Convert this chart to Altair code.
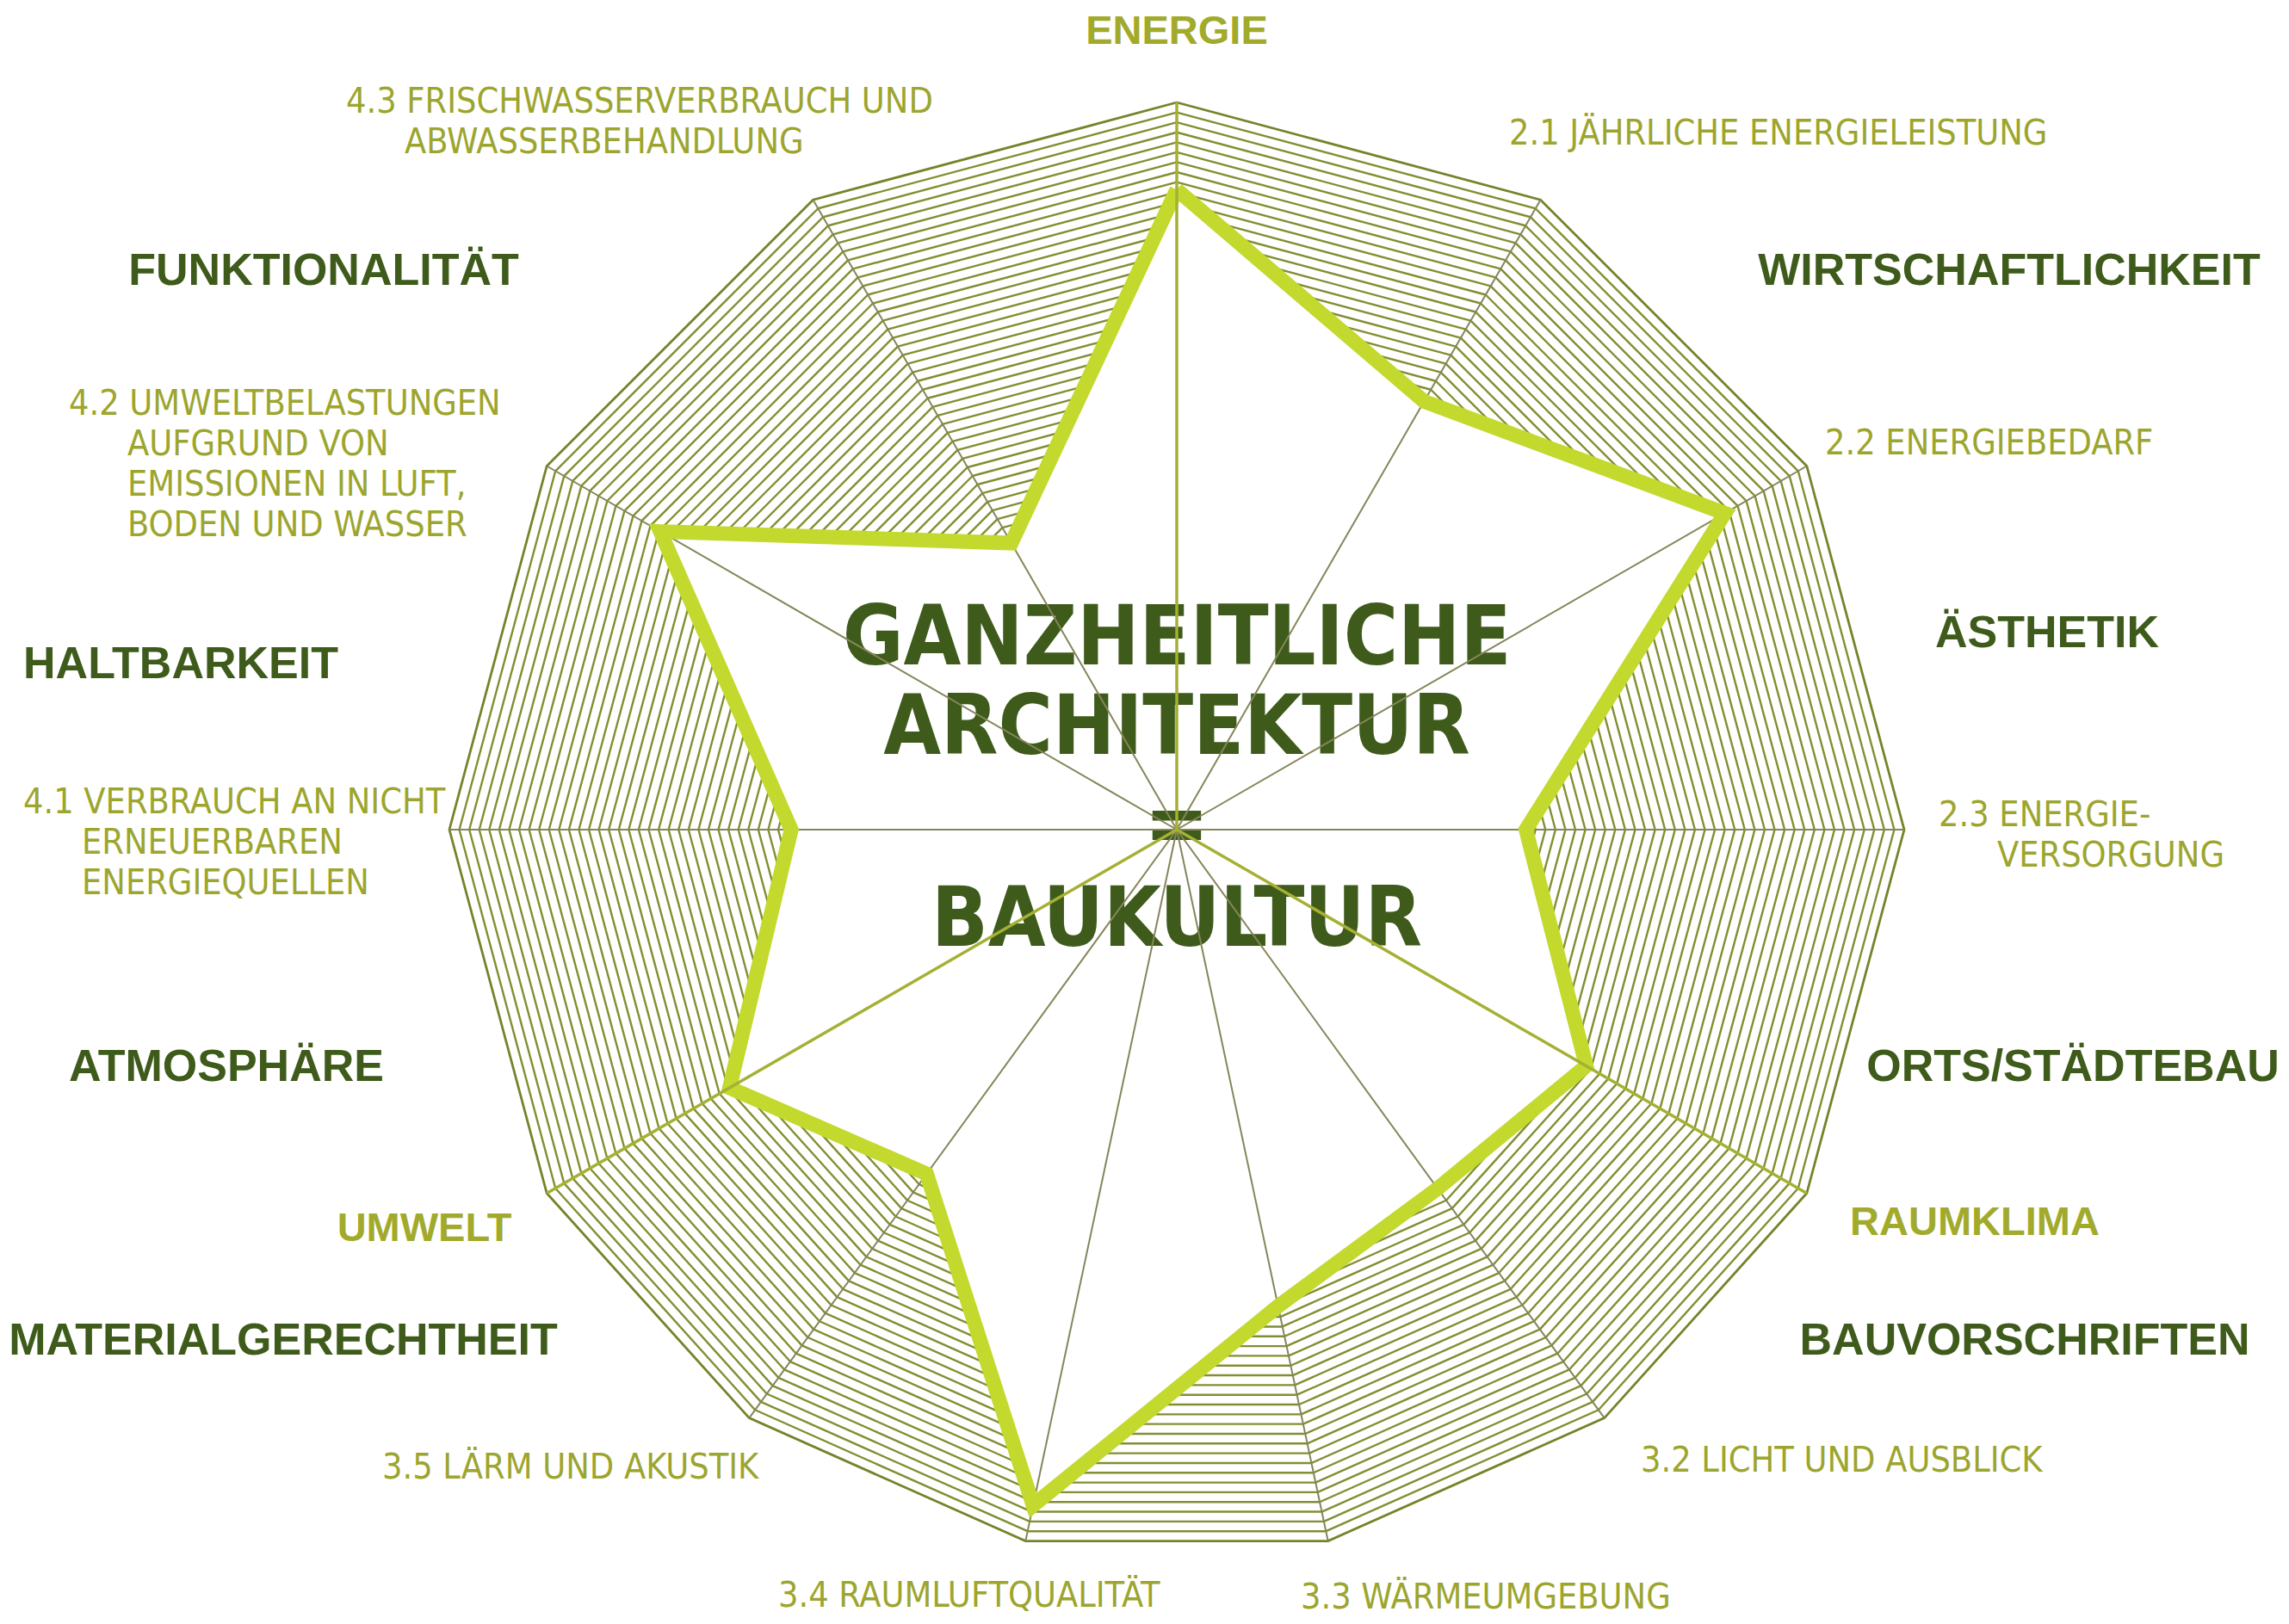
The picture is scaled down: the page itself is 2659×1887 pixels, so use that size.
import numpy as np
import pandas as pd
import altair as alt

# ---------------- data ----------------
axis_ids = ["ENERGIE", "2.1", "2.2", "2.3", "RAUMKLIMA", "3.2", "3.3", "3.4", "3.5",
            "UMWELT", "4.1", "4.2", "4.3"]
axis_angles = [0, 30, 60, 90, 120, 144, 168, 192, 216, 240, 270, 300, 330]
scores = [0.88, 0.68, 0.87, 0.48, 0.65, 0.61, 0.67, 0.95, 0.585, 0.71, 0.53, 0.82, 0.455]
boundary_axes = ["ENERGIE", "RAUMKLIMA", "UMWELT"]

sub_numbers = ["2.1", "2.2", "2.3", "3.2", "3.3", "3.4", "3.5", "4.1", "4.2", "4.3"]
sub_texts = [
    ["JÄHRLICHE ENERGIELEISTUNG"],
    ["ENERGIEBEDARF"],
    ["ENERGIE-", "VERSORGUNG"],
    ["LICHT UND AUSBLICK"],
    ["WÄRMEUMGEBUNG"],
    ["RAUMLUFTQUALITÄT"],
    ["LÄRM UND AKUSTIK"],
    ["VERBRAUCH AN NICHT", "ERNEUERBAREN", "ENERGIEQUELLEN"],
    ["UMWELTBELASTUNGEN", "AUFGRUND VON", "EMISSIONEN IN LUFT,", "BODEN UND WASSER"],
    ["FRISCHWASSERVERBRAUCH UND", "ABWASSERBEHANDLUNG"],
]
main_categories = ["ENERGIE", "RAUMKLIMA", "UMWELT"]
qualities = ["FUNKTIONALITÄT", "WIRTSCHAFTLICHKEIT", "HALTBARKEIT", "ÄSTHETIK",
             "ATMOSPHÄRE", "ORTS/STÄDTEBAU", "MATERIALGERECHTHEIT", "BAUVORSCHRIFTEN"]
center_lines = ["GANZHEITLICHE", "ARCHITEKTUR", "=", "BAUKULTUR"]

# ---------------- layout (image pixel space) ----------------
W, H = 2643, 1871
CX, CY, RADIUS = 1367, 964, 845
HATCH_STEP = 1 / 73
sub_pos = [(1753, 156), (2120, 516), (2252, 948), (1906, 1698), (1511, 1857),
           (904, 1855), (444, 1706), (27, 933), (80, 470), (402, 119)]
SUB_INDENT = 68
SUB_LINE = 47
SUB_SIZE = 41
main_pos = [(1367, 37), (2294, 1421), (493, 1428)]
quality_pos = [(376, 315), (2334, 315), (210, 772), (2378, 736), (263, 1240),
               (2408, 1240), (329, 1558), (2352, 1558)]
center_y = [743, 847, 960, 1070]
center_size = [96, 96, 100, 96]

NARROW = "Liberation Sans Narrow, DejaVu Sans Condensed, sans-serif"
SANS = "Liberation Sans, Arial, sans-serif"
DARK = "#3e5b1b"
OLIVE_TXT = "#9ca52d"

# ---------------- geometry ----------------
ang = np.radians(axis_angles)
ux, uy = np.sin(ang), np.cos(ang)
n = len(ang)


def pt(i, r):
    return CX + r * RADIUS * ux[i], CY - r * RADIUS * uy[i]


hatch = []
levels = 1 - np.arange(1, int(round(1 / HATCH_STEP))) * HATCH_STEP
for i in range(n):
    j = (i + 1) % n
    vi, vj = scores[i], scores[j]
    for L in levels:
        if L <= min(vi, vj):
            continue
        if L >= max(vi, vj):
            t0, t1 = 0.0, 1.0
        else:
            ts = (1 / L - 1 / vi) / (1 / vj - 1 / vi)
            t0, t1 = (0.0, ts) if vi < vj else (ts, 1.0)
        ax_, ay_ = (1 - t0) * ux[i] + t0 * ux[j], (1 - t0) * uy[i] + t0 * uy[j]
        bx_, by_ = (1 - t1) * ux[i] + t1 * ux[j], (1 - t1) * uy[i] + t1 * uy[j]
        hatch.append({"x": CX + L * RADIUS * ax_, "y": CY - L * RADIUS * ay_,
                      "x2": CX + L * RADIUS * bx_, "y2": CY - L * RADIUS * by_})
hatch_df = pd.DataFrame(hatch)

outline_df = pd.DataFrame([{"o": k, "x": pt(k % n, 1)[0], "y": pt(k % n, 1)[1]}
                           for k in range(n + 1)])
score_df = pd.DataFrame([{"o": k, "x": pt(k % n, scores[k % n])[0],
                          "y": pt(k % n, scores[k % n])[1]} for k in range(n + 1)])
spokes_df = pd.DataFrame([{"id": axis_ids[i], "x": CX, "y": CY,
                           "x2": pt(i, 1)[0], "y2": pt(i, 1)[1],
                           "boundary": axis_ids[i] in boundary_axes} for i in range(n)])

sub_rows = []
for num, lines, (x0, y0) in zip(sub_numbers, sub_texts, sub_pos):
    for k, line in enumerate(lines):
        if k == 0:
            sub_rows.append({"t": f"{num} {line}", "x": x0, "y": y0})
        else:
            sub_rows.append({"t": line, "x": x0 + SUB_INDENT, "y": y0 + k * SUB_LINE})
sub_df = pd.DataFrame(sub_rows)
main_df = pd.DataFrame([{"t": t, "x": p[0], "y": p[1]} for t, p in zip(main_categories, main_pos)])
qual_df = pd.DataFrame([{"t": t, "x": p[0], "y": p[1]} for t, p in zip(qualities, quality_pos)])
center_df = pd.DataFrame([{"t": t, "x": CX, "y": y, "s": s}
                          for t, y, s in zip(center_lines, center_y, center_size)])

xs = alt.Scale(domain=[8, 8 + W], nice=False, zero=False)
ys = alt.Scale(domain=[8, 8 + H], nice=False, zero=False, reverse=True)
X = lambda f="x": alt.X(f"{f}:Q", scale=xs, axis=None)
Y = lambda f="y": alt.Y(f"{f}:Q", scale=ys, axis=None)

hatch_layer = alt.Chart(hatch_df).mark_rule(color="#838e32", strokeWidth=2.4).encode(
    x=X(), y=Y(), x2="x2:Q", y2="y2:Q")
outline_layer = alt.Chart(outline_df).mark_line(color="#76832a", strokeWidth=2.8,
                                                strokeJoin="miter").encode(
    x=X(), y=Y(), order="o:Q")
center_layer = alt.Chart(center_df).mark_text(font=NARROW, fontWeight="bold",
                                              color=DARK, align="center",
                                              baseline="middle").encode(
    x=X(), y=Y(), text="t:N", size=alt.Size("s:Q", scale=None, legend=None))
thin_spokes = alt.Chart(spokes_df).transform_filter("!datum.boundary").mark_rule(
    color="#85865a", strokeWidth=2).encode(x=X(), y=Y(), x2="x2:Q", y2="y2:Q")
score_layer = alt.Chart(score_df).mark_line(color="#c3d92e", strokeWidth=17,
                                            strokeJoin="miter").encode(
    x=X(), y=Y(), order="o:Q")
bold_spokes = alt.Chart(spokes_df).transform_filter("datum.boundary").mark_rule(
    color="#a5b034", strokeWidth=3.5).encode(x=X(), y=Y(), x2="x2:Q", y2="y2:Q")
sub_layer = alt.Chart(sub_df).mark_text(font=NARROW, fontSize=SUB_SIZE, color=OLIVE_TXT,
                                        align="left", baseline="middle").encode(
    x=X(), y=Y(), text="t:N")
main_layer = alt.Chart(main_df).mark_text(font=SANS, fontWeight="bold", fontSize=47,
                                          color="#a2aa2c", align="center",
                                          baseline="middle").encode(
    x=X(), y=Y(), text="t:N")
qual_layer = alt.Chart(qual_df).mark_text(font=SANS, fontWeight="bold", fontSize=52,
                                          color=DARK, align="center",
                                          baseline="middle").encode(
    x=X(), y=Y(), text="t:N")

chart = alt.layer(hatch_layer, outline_layer, center_layer, thin_spokes, score_layer,
                  bold_spokes, sub_layer, main_layer, qual_layer).properties(
    width=W, height=H, padding=0, background="white"
).configure_view(strokeWidth=0)

chart.save("out.html", embed_options={"renderer": "svg", "actions": False})
